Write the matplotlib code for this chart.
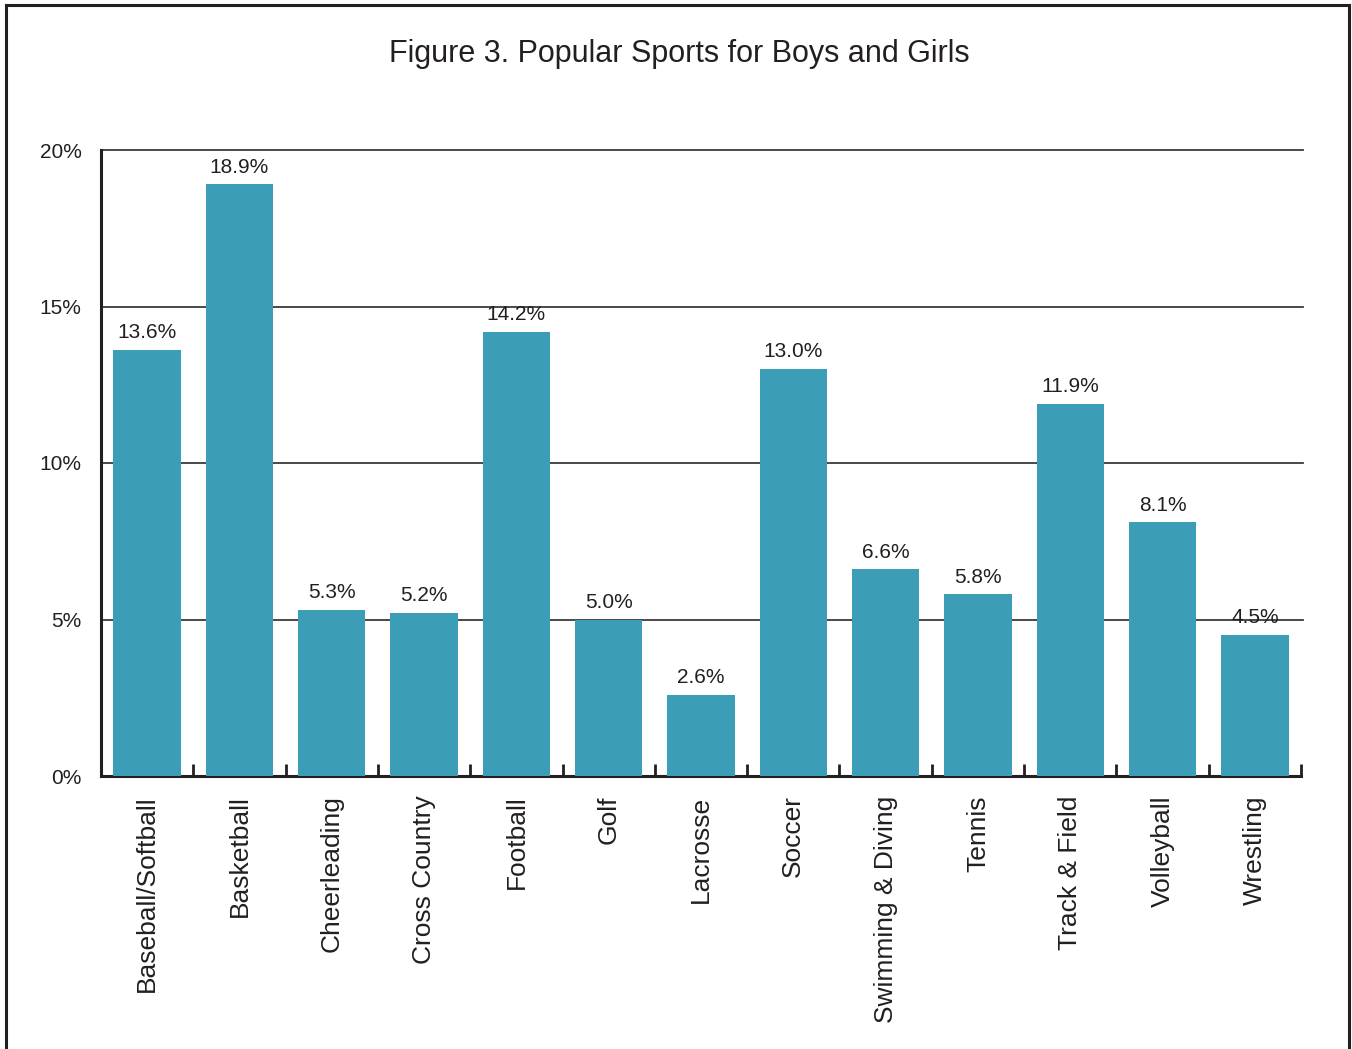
import matplotlib
matplotlib.use("Agg")
import matplotlib.pyplot as plt
from matplotlib.lines import Line2D
import numpy as np

plt.rcParams['font.family'] = ['Liberation Sans', 'DejaVu Sans']

categories = ["Baseball/Softball", "Basketball", "Cheerleading", "Cross Country",
              "Football", "Golf", "Lacrosse", "Soccer", "Swimming & Diving",
              "Tennis", "Track & Field", "Volleyball", "Wrestling"]
values = [13.6, 18.9, 5.3, 5.2, 14.2, 5.0, 2.6, 13.0, 6.6, 5.8, 11.9, 8.1, 4.5]
yticks = [0, 5, 10, 15, 20]
ytick_labels = ["0%", "5%", "10%", "15%", "20%"]
title = "Figure 3. Popular Sports for Boys and Girls"

bar_color = "#3c9eb6"
text_color = "#231f20"

fig = plt.figure(figsize=(13.52, 10.49), dpi=100)
ax = fig.add_axes([101/1352, 1 - 776/1049, 1200/1352, (776-150)/1049])

x = np.arange(len(categories))
ax.bar(x, values, width=0.73, color=bar_color, zorder=3)

ax.set_xlim(-0.5, len(categories) - 0.5)
ax.set_ylim(0, 20)

ax.set_yticks(yticks)
ax.set_yticklabels(ytick_labels, fontsize=15, color=text_color)
ax.tick_params(axis='y', length=0, pad=14)
for y in yticks[1:]:
    ax.axhline(y, color="#3a3a3a", lw=1.3, zorder=1, xmin=0, xmax=1.002, clip_on=False)

ax.set_xticks(x + 0.5)
ax.set_xticklabels([])
ax.tick_params(axis='x', direction='in', length=9, width=2, color=text_color)
for xi, cat in zip(x, categories):
    ax.text(xi, -0.62, cat, rotation=90, ha='center', va='top', fontsize=19,
            color=text_color, transform=ax.transData)

for xi, v in zip(x, values):
    ax.text(xi, v + 0.25, f"{v:.1f}%", ha='center', va='bottom', fontsize=15,
            color=text_color, zorder=4)

for side in ['top', 'right']:
    ax.spines[side].set_visible(False)
ax.spines['left'].set_linewidth(2.2)
ax.spines['bottom'].set_linewidth(2.2)
ax.spines['left'].set_color(text_color)
ax.spines['bottom'].set_color(text_color)

fig.text(679/1352, 1 - 54/1049, title, ha='center', va='center', fontsize=22,
         color=text_color)

# figure frame
W, H = 1352, 1049
fc = "#231f20"
fig.add_artist(Line2D([6/W, 6/W], [0, 1 - 5/H], color=fc, lw=2.2, transform=fig.transFigure))
fig.add_artist(Line2D([6/W, 1349/W], [1 - 5/H, 1 - 5/H], color=fc, lw=2.2, transform=fig.transFigure))
fig.add_artist(Line2D([1349/W, 1349/W], [0, 1 - 5/H], color=fc, lw=2.2, transform=fig.transFigure))

fig.savefig("out.png", dpi=100)
